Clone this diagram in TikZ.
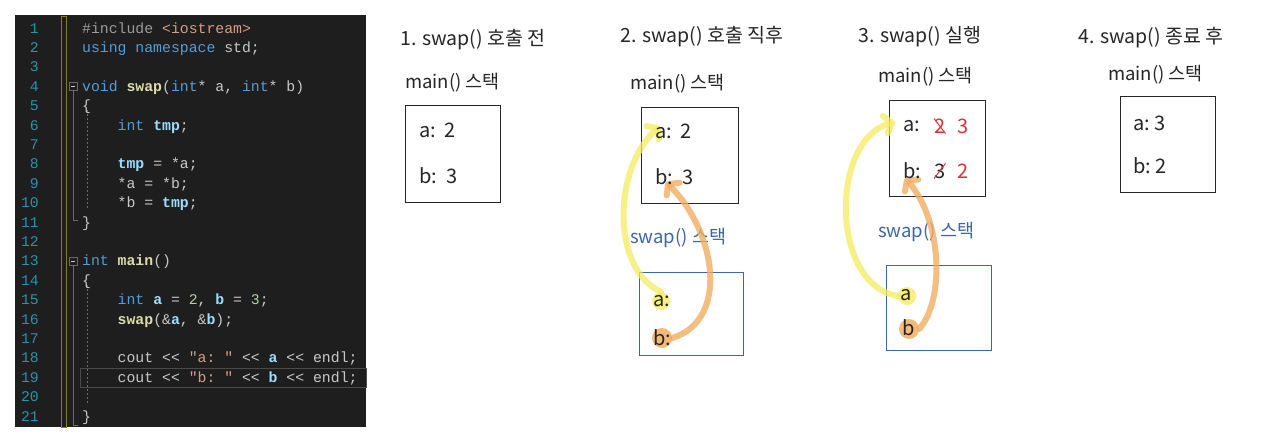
\documentclass[tikz,border=0pt]{standalone}
\usepackage{fontspec}
\setmonofont{Liberation Mono}
\newfontfamily\hand{Noto Sans CJK KR}
\usetikzlibrary{arrows.meta}
\definecolor{codebg}{HTML}{1E1E1E}
\definecolor{lnum}{HTML}{2B91AF}
\definecolor{kw}{HTML}{569CD6}
\definecolor{fn}{HTML}{DCDCAA}
\definecolor{var}{HTML}{9CDCFE}
\definecolor{str}{HTML}{D69D85}
\definecolor{numc}{HTML}{B5CEA8}
\definecolor{plain}{HTML}{C8C8C8}
\definecolor{pre}{HTML}{9B9B9B}
\definecolor{guide}{HTML}{6A6A6A}
\definecolor{bar}{HTML}{8C7A2C}
\definecolor{hl}{HTML}{4A4A4A}
\definecolor{swapblue}{HTML}{3D67A3}
\definecolor{penred}{HTML}{D0383E}
\definecolor{hlyellow}{HTML}{F5EB60}
\definecolor{hlorange}{HTML}{F2AE62}
\newcommand{\K}[1]{\textcolor{kw}{#1}}
\newcommand{\F}[1]{\textcolor{fn}{\bfseries #1}}
\newcommand{\V}[1]{\textcolor{var}{\bfseries #1}}
\newcommand{\Sx}[1]{\textcolor{str}{#1}}
\newcommand{\N}[1]{\textcolor{numc}{#1}}
\begin{document}
\begin{tikzpicture}[x=1pt,y=-1pt,
  lnstyle/.style={anchor=base east,font=\ttfamily\fontsize{14.8}{15}\selectfont,text=lnum,inner sep=0pt},
  codestyle/.style={anchor=base west,font=\ttfamily\fontsize{14.8}{15}\selectfont,text=plain,inner sep=0pt},
  title/.style={anchor=west,font=\hand\fontsize{19.5}{20}\selectfont,text=black!85,inner sep=0pt},
  stacklbl/.style={anchor=west,font=\hand\fontsize{18.5}{19}\selectfont,text=black!85,inner sep=0pt},
  swaplbl/.style={anchor=west,font=\hand\fontsize{18.5}{19}\selectfont,text=swapblue,inner sep=0pt},
  val/.style={anchor=west,font=\hand\fontsize{20}{21}\selectfont,text=black!85,inner sep=0pt},
  mainbox/.style={draw=black!85,line width=1pt},
  swapbox/.style={draw=swapblue,line width=1pt},
  yarrow/.style={draw=hlyellow,opacity=0.75,line width=6pt,line cap=round,-{Straight Barb[length=7pt,width=18pt,round]}},
  oarrow/.style={draw=hlorange,opacity=0.8,line width=6pt,line cap=round,-{Straight Barb[length=7pt,width=18pt,round]}},
  ydot/.style={circle,fill=hlyellow,opacity=0.8,minimum size=18pt,inner sep=0pt},
  odot/.style={circle,fill=hlorange,opacity=0.85,minimum size=20pt,inner sep=0pt},
  cross/.style={draw=penred,line width=1pt}
]
\useasboundingbox (0,0) rectangle (1280,447);
\fill[white] (0,0) rectangle (1280,447);
% ---------- code panel ----------
\fill[codebg] (15,15) rectangle (366,427);
\draw[bar,line width=1pt] (61,16) rectangle (66,427);
\draw[hl,line width=1pt] (80,368.5) rectangle (366,387);
% fold markers and block lines
\draw[guide,line width=0.8pt] (69,82) rectangle (77,90);
\draw[plain,line width=0.8pt] (71,86) -- (75,86);
\draw[guide,line width=0.8pt] (73,90) -- (73,220) -- (78,220);
\draw[guide,line width=0.8pt] (69,257) rectangle (77,265);
\draw[plain,line width=0.8pt] (71,261) -- (75,261);
\draw[guide,line width=0.8pt] (73,265) -- (73,425) -- (78,425);
\draw[guide,line width=0.6pt,dash pattern=on 2pt off 2pt] (87,110) -- (87,210);
\draw[guide,line width=0.6pt,dash pattern=on 2pt off 2pt] (87,285) -- (87,405);
% line numbers
\foreach \n in {1,...,21}{
  \node[lnstyle] (ln\n) at (39,{33+(\n-1)*19.4}) {\n};
}
\node[codestyle] (c1)  at (82,33.0)  {\textcolor{pre}{\#include} \Sx{<iostream>}};
\node[codestyle] (c2)  at (82,52.4)  {\K{using namespace} std;};
\node[codestyle] (c4)  at (82,91.2)  {\K{void} \F{swap}(\K{int}* a, \K{int}* b)};
\node[codestyle] (c5)  at (82,110.6) {\{};
\node[codestyle] (c6)  at (82,130.0) {\phantom{xxxx}\K{int} \V{tmp};};
\node[codestyle] (c8)  at (82,168.8) {\phantom{xxxx}\V{tmp} = *a;};
\node[codestyle] (c9)  at (82,188.2) {\phantom{xxxx}*a = *b;};
\node[codestyle] (c10) at (82,207.6) {\phantom{xxxx}*b = \V{tmp};};
\node[codestyle] (c11) at (82,227.0) {\}};
\node[codestyle] (c13) at (82,265.8) {\K{int} \F{main}()};
\node[codestyle] (c14) at (82,285.2) {\{};
\node[codestyle] (c15) at (82,304.6) {\phantom{xxxx}\K{int} \V{a} = \N{2}, \V{b} = \N{3};};
\node[codestyle] (c16) at (82,324.0) {\phantom{xxxx}\F{swap}(\&\V{a}, \&\V{b});};
\node[codestyle] (c18) at (82,362.8) {\phantom{xxxx}cout << \Sx{"a: "} << \V{a} << endl;};
\node[codestyle] (c19) at (82,382.2) {\phantom{xxxx}cout << \Sx{"b: "} << \V{b} << endl;};
\node[codestyle] (c21) at (82,421.0) {\}};
% ---------- panel 1 ----------
\node[title] (t1) at (400,40) {1. swap() 호출 전};
\node[stacklbl] (m1) at (405,83) {main() 스택};
\draw[mainbox] (405,105) rectangle (500,202);
\node[val] (a1) at (419,130) {a:~~2};
\node[val] (b1) at (419,176) {b:~~3};
% ---------- panel 2 ----------
\node[title] (t2) at (620,37) {2. swap() 호출 직후};
\node[stacklbl] (m2) at (630,84) {main() 스택};
\draw[mainbox] (641,107) rectangle (738,203);
\node[swaplbl] (s2) at (630,238) {swap() 스택};
\draw[swapbox] (639,272) rectangle (743,355);
\node[ydot] (ya2) at (661,301) {};
\node[odot] (ob2) at (662,338) {};
\coordinate (ta2) at (660,126);
\coordinate (tb2) at (666,182);
\draw[yarrow] (ya2.north) .. controls (612,270) and (612,170) .. (ta2);
\draw[oarrow] (ob2.east) .. controls (730,320) and (716,232) .. (tb2);
\node[val] (a2) at (655,131) {a:~~2};
\node[val] (b2) at (655,177) {b:~~3};
\node[val] (sa2) at (653,301) {a:};
\node[val] (sb2) at (653,338) {b:};
% ---------- panel 3 ----------
\node[title] (t3) at (858,37) {3. swap() 실행};
\node[stacklbl] (m3) at (878,77) {main() 스택};
\draw[mainbox] (889,100) rectangle (985,196);
\node[swaplbl] (s3) at (878,232) {swap() 스택};
\draw[swapbox] (886,265) rectangle (991,350);
\node[ydot] (ya3) at (907,296) {};
\node[odot] (ob3) at (909,329) {};
\coordinate (ta3) at (895,122);
\coordinate (tb3) at (905,178);
\draw[yarrow] (ya3.west) .. controls (830,285) and (830,140) .. (ta3);
\draw[oarrow] (ob3.east) .. controls (945,300) and (942,220) .. (tb3);
\node[val] (a3) at (903,126) {a:};
\node[val,text=penred] (a3old) at (934,126) {2};
\draw[cross] (a3old.north west) -- (a3old.south east);
\node[val,text=penred] (a3new) at (957,126) {3};
\node[val] (b3) at (903,171) {b:};
\node[val] (b3old) at (934,171) {3};
\draw[cross] (b3old.north east) -- (b3old.south west);
\node[val,text=penred] (b3new) at (957,171) {2};
\node[val] (sa3) at (900,295) {a};
\node[val] (sb3) at (902,328) {b};
% ---------- panel 4 ----------
\node[title] (t4) at (1078,38) {4. swap() 종료 후};
\node[stacklbl] (m4) at (1108,75) {main() 스택};
\draw[mainbox] (1120,96) rectangle (1215,192);
\node[val] (a4) at (1133,123) {a:~3};
\node[val] (b4) at (1133,166) {b:~2};
\end{tikzpicture}
\end{document}
